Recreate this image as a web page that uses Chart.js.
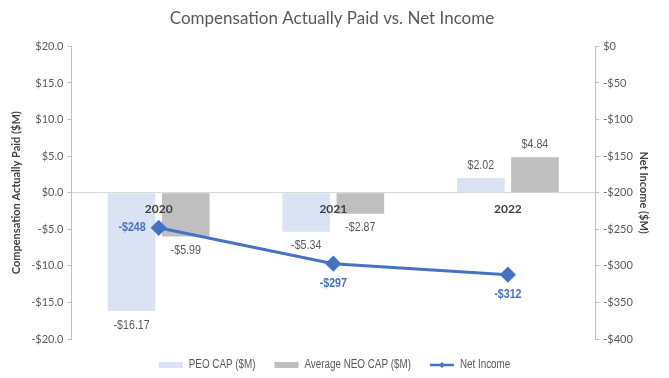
<!DOCTYPE html>
<html>
<head>
<meta charset="utf-8">
<script src="https://cdn.jsdelivr.net/npm/chart.js@4.4.1/dist/chart.umd.min.js"></script>
<style>
  html, body { margin: 0; padding: 0; background: #fff; }
  #wrap { width: 669px; height: 378px; }
</style>
</head>
<body>
<div id="wrap"><canvas id="chart_cap_vs_ni"></canvas></div>
<script>
var years = ['2020', '2021', '2022'];
var peoCap = [-16.17, -5.34, 2.02];
var neoCap = [-5.99, -2.87, 4.84];
var netIncome = [-248, -297, -312];

var labelFont = '"Liberation Sans", Arial, sans-serif';
var squeeze = 0.82; // no narrow face installed, so compress the Arial-like one

function money(v, digits) {
    var s = '$' + Math.abs(v).toFixed(digits);
    return v < 0 ? '-' + s : s;
}

function narrowText(ctx, text, x, y) {
    ctx.save();
    ctx.translate(x, y);
    ctx.scale(squeeze, 1);
    ctx.fillText(text, 0, 0);
    ctx.restore();
}

var valueLabels = {
    id: 'valueLabels',
    afterDatasetsDraw: function (chart) {
        var ctx = chart.ctx;
        ctx.save();
        ctx.textBaseline = 'middle';
        chart.data.datasets.forEach(function (ds, i) {
            var meta = chart.getDatasetMeta(i);
            meta.data.forEach(function (el, j) {
                var v = ds.data[j];
                if (ds.type === 'line') {
                    ctx.font = 'bold 13px ' + labelFont;
                    ctx.fillStyle = '#4472C4';
                    if (j === 0) {
                        ctx.textAlign = 'right';
                        narrowText(ctx, money(v, 0), el.x - 13, el.y);
                    } else {
                        ctx.textAlign = 'center';
                        narrowText(ctx, money(v, 0), el.x, el.y + 20);
                    }
                } else {
                    ctx.font = '13px ' + labelFont;
                    ctx.fillStyle = '#595959';
                    ctx.textAlign = 'center';
                    narrowText(ctx, money(v, 2), el.x, v < 0 ? el.y + 14 : el.y - 13);
                }
            });
        });
        ctx.restore();
    }
};

// excel-style legend along the bottom
var bottomLegend = {
    id: 'bottomLegend',
    afterDraw: function (chart) {
        var ctx = chart.ctx;
        var sw = 24, gap = 6, spacing = 19, y = 365;
        ctx.save();
        ctx.font = '12px ' + labelFont;
        ctx.textBaseline = 'middle';
        ctx.textAlign = 'left';
        var items = chart.data.datasets;
        var total = 0;
        items.forEach(function (ds, i) {
            total += sw + gap + ctx.measureText(ds.label).width * squeeze + (i ? spacing : 0);
        });
        var x = (chart.width - total) / 2;
        items.forEach(function (ds) {
            if (ds.type === 'line') {
                ctx.strokeStyle = ds.borderColor;
                ctx.lineWidth = 2.5;
                ctx.beginPath(); ctx.moveTo(x, y); ctx.lineTo(x + sw, y); ctx.stroke();
                ctx.fillStyle = ds.borderColor;
                var cx = x + sw / 2;
                ctx.beginPath(); ctx.moveTo(cx, y - 3); ctx.lineTo(cx + 3, y); ctx.lineTo(cx, y + 3); ctx.lineTo(cx - 3, y); ctx.closePath(); ctx.fill();
            } else {
                ctx.fillStyle = ds.backgroundColor;
                ctx.fillRect(x, y - 3, sw, 6);
            }
            x += sw + gap;
            ctx.fillStyle = '#595959';
            narrowText(ctx, ds.label, x, y);
            x += ctx.measureText(ds.label).width * squeeze + spacing;
        });
        ctx.restore();
    }
};

var chart_cap_vs_ni = new Chart(document.getElementById('chart_cap_vs_ni'), {
    type: 'bar',
    data: {
        labels: years,
        datasets: [
            {
                label: 'PEO CAP ($M)',
                data: peoCap,
                backgroundColor: '#DAE3F3',
                yAxisID: 'y',
                categoryPercentage: 0.62,
                barPercentage: 0.88,
                order: 2
            },
            {
                label: 'Average NEO CAP ($M)',
                data: neoCap,
                backgroundColor: '#BFBFBF',
                yAxisID: 'y',
                categoryPercentage: 0.62,
                barPercentage: 0.88,
                order: 2
            },
            {
                type: 'line',
                label: 'Net Income',
                data: netIncome,
                yAxisID: 'y1',
                borderColor: '#4472C4',
                backgroundColor: '#4472C4',
                borderWidth: 3,
                pointStyle: 'rectRot',
                pointRadius: 6,
                pointHoverRadius: 6,
                fill: false,
                order: 1
            }
        ]
    },
    options: {
        animation: false,
        responsive: true,
        maintainAspectRatio: false,
        layout: { padding: { left: 10, right: 15, top: 4, bottom: 39 } },
        plugins: {
            title: {
                display: true,
                text: 'Compensation Actually Paid vs. Net Income',
                color: '#595959',
                font: { family: 'Lato, "Open Sans", sans-serif', size: 17, weight: 'normal' },
                padding: { top: 4, bottom: 18 }
            },
            legend: { display: false },
            tooltip: { enabled: false }
        },
        scales: {
            x: {
                position: { y: 0 },
                grid: { display: false, drawTicks: false },
                border: { display: true, color: '#D9D9D9', width: 1 },
                ticks: {
                    z: 1,
                    color: '#404040',
                    padding: 9,
                    font: { family: 'Lato, "Open Sans", sans-serif', size: 12, weight: 'bold' }
                }
            },
            y: {
                position: 'left',
                min: -20,
                max: 20,
                grid: { drawOnChartArea: false, tickLength: 4, color: '#BFBFBF' },
                border: { color: '#BFBFBF' },
                ticks: {
                    stepSize: 5,
                    color: '#595959',
                    padding: 4,
                    font: { family: 'Lato, "Open Sans", sans-serif', size: 11 },
                    callback: function (v) { return money(v, 1); }
                },
                title: {
                    display: true,
                    text: 'Compensation Actually Paid ($M)',
                    color: '#404040',
                    font: { family: 'Lato, "Open Sans", sans-serif', size: 11, weight: 'bold' },
                    padding: { top: 0, bottom: 4 }
                }
            },
            y1: {
                position: 'right',
                min: -400,
                max: 0,
                grid: { drawOnChartArea: false, tickLength: 4, color: '#BFBFBF' },
                border: { color: '#BFBFBF' },
                ticks: {
                    stepSize: 50,
                    color: '#595959',
                    padding: 4,
                    font: { family: 'Lato, "Open Sans", sans-serif', size: 11 },
                    callback: function (v) { return money(v, 0); }
                },
                title: {
                    display: true,
                    text: 'Net Income ($M)',
                    color: '#404040',
                    font: { family: 'Lato, "Open Sans", sans-serif', size: 11, weight: 'bold' },
                    padding: { top: 4, bottom: 0 }
                }
            }
        }
    },
    plugins: [valueLabels, bottomLegend]
});
</script>
</body>
</html>
